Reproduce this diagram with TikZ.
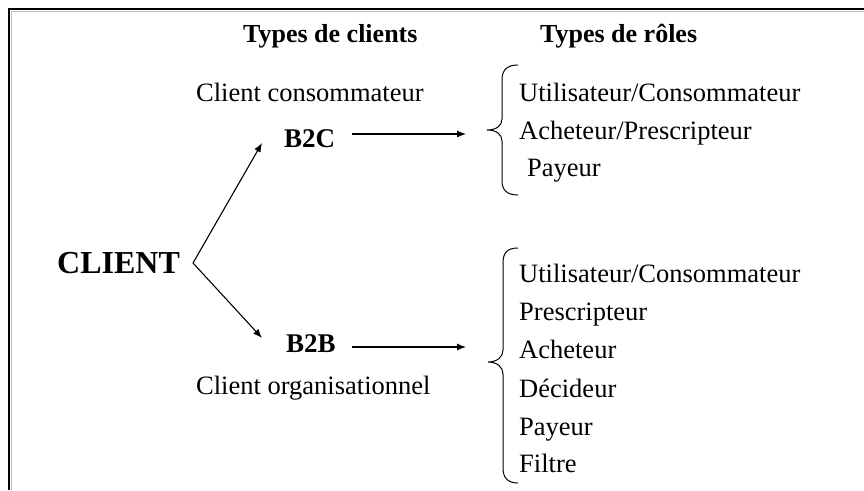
\documentclass[tikz,border=0pt]{standalone}
\usepackage{fontspec}
\setmainfont{Liberation Serif}
\usetikzlibrary{arrows.meta}
\begin{document}
\begin{tikzpicture}[x=1pt,y=-1pt,
  reg/.style={font=\fontsize{26.5}{30}\selectfont, inner sep=0pt, anchor=base west},
  head/.style={font=\fontsize{26}{30}\selectfont\bfseries, inner sep=0pt, anchor=base west},
  big/.style={font=\fontsize{32}{36}\selectfont\bfseries, inner sep=0pt, anchor=base west},
  mid/.style={font=\fontsize{27}{30}\selectfont\bfseries, inner sep=0pt, anchor=base west},
  arr/.style={-{Latex[length=9pt,width=7pt]}, line width=1.1pt},
  bracestyle/.style={line width=1pt}]
\useasboundingbox (0,0) rectangle (864,490);
\fill[white] (0,0) rectangle (864,490);
\draw[gray!50, line width=1pt] (11,490) -- (11,11) -- (864,11);
\draw[line width=1.5pt] (9,490) -- (9,9) -- (864,9);

\node[head] (tc) at (243,42) {Types de clients};
\node[head] (tr) at (540,42) {Types de rôles};
\node[reg] (cc) at (196,101) {Client consommateur};
\node[reg] (co) at (196,394) {Client organisationnel};
\node[big] (client) at (57,273) {CLIENT};
\node[mid] (b2c) at (284,147) {B2C};
\node[mid] (b2b) at (286,352) {B2B};

\coordinate (v) at (193,263);
\coordinate (b2cin) at (262,143);
\coordinate (b2bin) at (262,338);
\coordinate (b2cout) at (352,134);
\coordinate (b2cend) at (466,134);
\coordinate (b2bout) at (352,347);
\coordinate (b2bend) at (466,347);
\draw[arr] (v) -- (b2cin);
\draw[arr] (v) -- (b2bin);
\draw[arr] (b2cout) -- (b2cend);
\draw[arr] (b2bout) -- (b2bend);

% upper brace
\draw[bracestyle] (518,65) .. controls (507,65) and (502,70) .. (502,80) -- (502,119)
  .. controls (502,126) and (496,130) .. (487,130)
  .. controls (496,130) and (502,134) .. (502,141) -- (502,181)
  .. controls (502,190) and (507,195) .. (518,195);
% lower brace
\draw[bracestyle] (518,248) .. controls (507,248) and (503,253) .. (503,263) -- (503,350)
  .. controls (503,357) and (497,362) .. (488,362)
  .. controls (497,362) and (503,367) .. (503,374) -- (503,468)
  .. controls (503,477) and (507,483) .. (518,483);

\node[reg] (u1) at (519,101) {Utilisateur/Consommateur};
\node[reg] (a1) at (519,139) {Acheteur/Prescripteur};
\node[reg] (p1) at (527,176) {Payeur};

\node[reg] (u2) at (519,282) {Utilisateur/Consommateur};
\node[reg] (pr2) at (519,320) {Prescripteur};
\node[reg] (a2) at (519,358) {Acheteur};
\node[reg] (d2) at (519,397) {Décideur};
\node[reg] (p2) at (519,435) {Payeur};
\node[reg] (f2) at (519,472) {Filtre};
\end{tikzpicture}
\end{document}
